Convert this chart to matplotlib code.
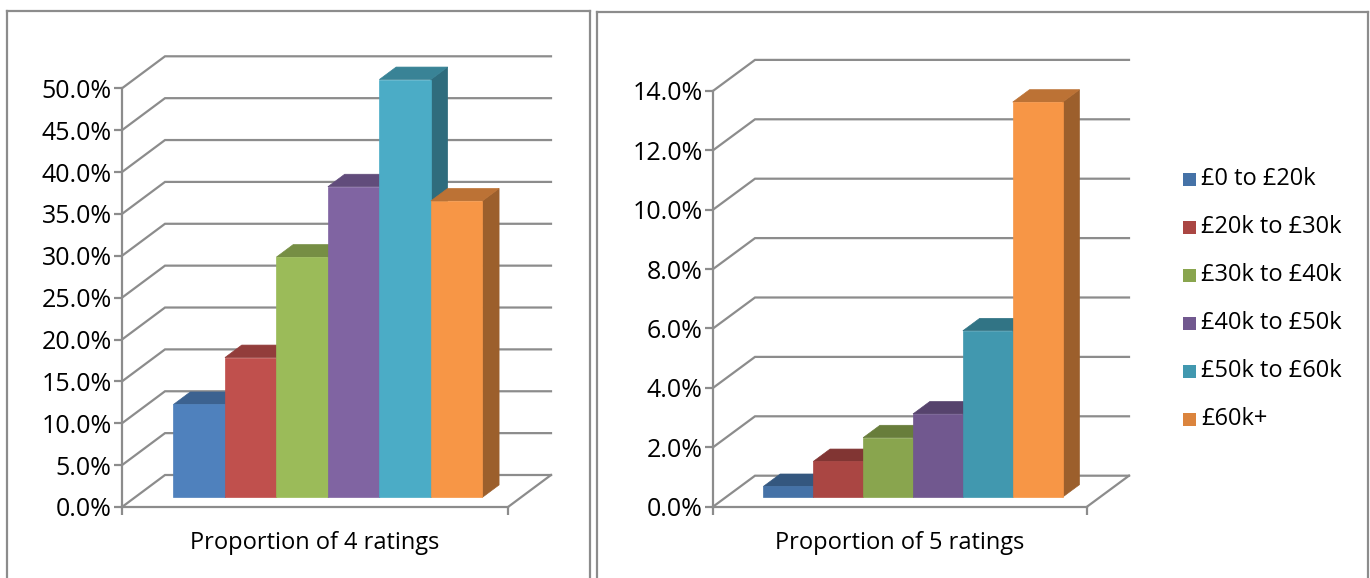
import matplotlib
matplotlib.use("Agg")
import matplotlib.pyplot as plt
import matplotlib.colors as mcolors
from matplotlib.patches import Polygon, Rectangle
from matplotlib.lines import Line2D
from matplotlib.transforms import IdentityTransform

plt.rcParams['font.family'] = ['Open Sans', 'DejaVu Sans']

# ---- data -------------------------------------------------------------
income_bands = ["£0 to £20k", "£20k to £30k", "£30k to £40k",
                "£40k to £50k", "£50k to £60k", "£60k+"]
share_4_ratings = [11.1, 16.7, 28.7, 37.1, 49.9, 35.4]   # percent
share_5_ratings = [0.36, 1.2, 2.0, 2.8, 5.6, 13.3]       # percent
category_4 = "Proportion of 4 ratings"
category_5 = "Proportion of 5 ratings"
ticks_4 = [0, 5, 10, 15, 20, 25, 30, 35, 40, 45, 50]
ticks_5 = [0, 2, 4, 6, 8, 10, 12, 14]

colors_4 = ['#4F81BD', '#C0504D', '#9BBB59', '#8064A2', '#4BACC6', '#F79646']
colors_5 = ['#4572A7', '#AA4643', '#89A54E', '#71588F', '#4198AF', '#F79646']
legend_colors = ['#4572A7', '#AA4643', '#89A54E', '#71588F', '#4198AF', '#DB843D']

# ---- figure -----------------------------------------------------------
W, H, DPI = 1370, 578, 100
fig = plt.figure(figsize=(W / DPI, H / DPI), dpi=DPI)
fig.patch.set_facecolor('white')

GRID = '#8C8C8C'
FS = 17
TICK_FS = 18


def fx(x):
    return x / W


def fy(y):
    return 1 - y / H


def shade(c, f):
    r, g, b = mcolors.to_rgb(c)
    return (r * f, g * f, b * f)


def frame(x0, y0, x1):
    """Chart-area border: left, top and right edges (bottom runs off the page)."""
    for xs, ys in (([x0, x0], [H, y0]), ([x0, x1], [y0, y0]), ([x1, x1], [y0, H])):
        fig.add_artist(Line2D([fx(v) for v in xs], [fy(v) for v in ys],
                              transform=fig.transFigure, color=GRID, lw=1.6))


def draw_panel(box, values, colors, yticks, category, wall, d0, d1):
    x_left, y_top, x_right, y_bottom = box
    ax = fig.add_axes([fx(x_left), fy(y_bottom), fx(x_right - x_left),
                       (y_bottom - y_top) / H])
    ax.patch.set_visible(False)
    for s in ('top', 'right'):
        ax.spines[s].set_visible(False)
    for s in ('left', 'bottom'):
        ax.spines[s].set_color(GRID)
        ax.spines[s].set_linewidth(1.6)
    n = len(values)
    xmin, xmax = -1.25, n + 0.25
    ax.set_yticks(yticks, [f"{t:.1f}%" for t in yticks])
    ax.set_xticks([xmin, xmax], ['', ''])
    ax.set_xlim(xmin, xmax)
    ax.set_ylim(yticks[0], yticks[-1])
    ax.tick_params(axis='both', direction='out', length=6, width=1.6,
                   color=GRID, labelsize=TICK_FS, pad=1.5, labelcolor='black')

    wdx, wdy = wall

    def P(x, y, d):
        X, Y = ax.transData.transform((x, y))
        return (X + d * wdx, Y + d * wdy)

    def add_line(pts, z=1):
        ln = Line2D([p[0] for p in pts], [p[1] for p in pts],
                    transform=IdentityTransform(), color=GRID, lw=1.6,
                    zorder=z, solid_joinstyle='miter')
        ln.set_clip_on(False)
        ax.add_artist(ln)

    # side wall + back wall gridlines
    for v in yticks:
        add_line([P(xmin, v, 0), P(xmin, v, 1), P(xmax, v, 1)])
    # floor: right edge
    add_line([P(xmax, 0, 0), P(xmax, 0, 1)])

    # bars, left to right so that each one hides the previous side face
    for i, (v, c) in enumerate(zip(values, colors)):
        x0, x1 = i - 0.5, i + 0.5
        side = [P(x1, 0, d0), P(x1, 0, d1), P(x1, v, d1), P(x1, v, d0)]
        top = [P(x0, v, d0), P(x1, v, d0), P(x1, v, d1), P(x0, v, d1)]
        front = [P(x0, 0, d0), P(x1, 0, d0), P(x1, v, d0), P(x0, v, d0)]
        z = 3 + i
        for pts, col in ((side, shade(c, 0.63)), (top, shade(c, 0.76)), (front, c)):
            pg = Polygon(pts, closed=True, transform=IdentityTransform(),
                         facecolor=col, edgecolor=col, lw=0.5, zorder=z)
            pg.set_clip_on(False)
            ax.add_artist(pg)

    ax.annotate(category, xy=(0.5, 0), xycoords='axes fraction',
                xytext=(0, -36 * 0.72), textcoords='offset points',
                ha='center', va='center', fontsize=FS, color='black')
    return ax


frame(7, 11, 590)
frame(597, 12, 1368)

draw_panel((122, 88.3, 508, 507), share_4_ratings, colors_4, ticks_4,
           category_4, wall=(43, 32), d0=0.30, d1=0.69)
draw_panel((713, 90.9, 1087, 506.7), share_5_ratings, colors_5, ticks_5,
           category_5, wall=(42, 31), d0=0.31, d1=0.71)

# legend
for i, (lab, col) in enumerate(zip(income_bands, legend_colors)):
    yc = 179 + 48 * i
    fig.add_artist(Rectangle((fx(1183), fy(yc + 6.5)), 13 / W, 13 / H,
                             transform=fig.transFigure, facecolor=col,
                             edgecolor='none'))
    fig.text(fx(1201), fy(yc), lab, ha='left', va='center', fontsize=FS,
             color='black')

fig.savefig('out.png', dpi=DPI, facecolor='white')
